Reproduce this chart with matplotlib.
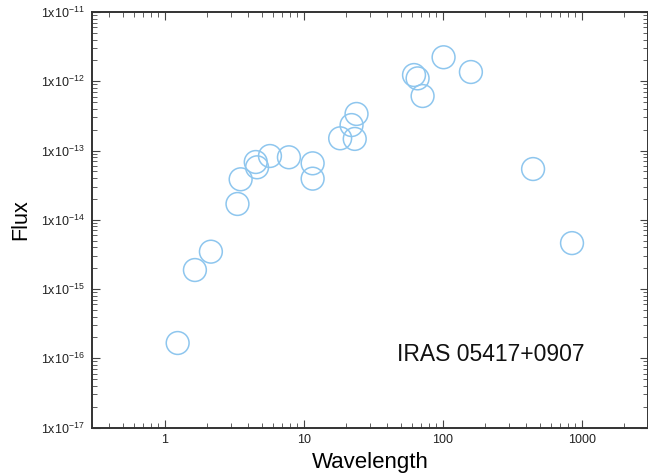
import math
import matplotlib
matplotlib.use("Agg")
import matplotlib.pyplot as plt
from matplotlib.ticker import LogLocator, FixedLocator, FuncFormatter, NullFormatter

plt.rcParams['font.family'] = ['Liberation Sans', 'DejaVu Sans']
plt.rcParams['mathtext.default'] = 'regular'

# SED photometry (wavelength in micron, flux)
wavelength = [1.24, 1.65, 2.15, 3.34, 3.52, 4.52, 4.62, 5.72, 7.83, 11.6, 11.6,
              18.3, 22.1, 23.3, 24.0, 62.2, 66.0, 71.7, 101.5, 159.6, 447, 852]
flux = [1.66e-16, 1.88e-15, 3.46e-15, 1.69e-14, 3.84e-14, 6.82e-14, 5.72e-14,
        8.33e-14, 7.98e-14, 6.53e-14, 3.92e-14, 1.50e-13, 2.33e-13, 1.47e-13,
        3.37e-13, 1.23e-12, 1.10e-12, 6.12e-13, 2.22e-12, 1.36e-12, 5.4e-14, 4.6e-15]

x_ticks = [1, 10, 100, 1000]
y_ticks = [1e-17, 1e-16, 1e-15, 1e-14, 1e-13, 1e-12, 1e-11]

fig = plt.figure(figsize=(6.48, 4.73), dpi=100)
ax = fig.add_axes([92 / 648, 1 - 427.5 / 473, 556 / 648, 415.5 / 473])

ax.scatter(wavelength, flux, s=270, facecolors='none', edgecolors='#8ec6ee',
           linewidths=1.1, zorder=3)

ax.set_xscale('log')
ax.set_yscale('log')
ax.set_xlim(0.3, 3000)
ax.set_ylim(1e-17, 1e-11)

ax.xaxis.set_major_locator(FixedLocator(x_ticks))
ax.xaxis.set_major_formatter(FuncFormatter(lambda v, p: '%d' % round(v)))
ax.xaxis.set_minor_locator(LogLocator(base=10, subs=range(2, 10)))
ax.xaxis.set_minor_formatter(NullFormatter())

ax.yaxis.set_major_locator(FixedLocator(y_ticks))
ax.yaxis.set_major_formatter(FuncFormatter(
    lambda v, p: r'1x10$^{%d}$' % round(math.log10(v))))
ax.yaxis.set_minor_locator(LogLocator(base=10, subs=range(2, 10)))
ax.yaxis.set_minor_formatter(NullFormatter())

ax.tick_params(which='both', direction='in', top=True, right=True,
               colors='#444444', labelcolor='#222222')
ax.tick_params(which='major', length=6, width=0.8, labelsize=9, pad=5)
ax.tick_params(which='minor', length=3.5, width=0.6)
for sp in ax.spines.values():
    sp.set_color('#333333')
    sp.set_linewidth(1.4)

ax.set_xlabel('Wavelength', fontsize=16, labelpad=4)
ax.set_ylabel('Flux', fontsize=15.5, labelpad=7)

ax.text(0.549, 0.175, 'IRAS 05417+0907', transform=ax.transAxes,
        fontsize=16.5, ha='left', va='center', color='#111111')

fig.savefig('out.png', dpi=100)
